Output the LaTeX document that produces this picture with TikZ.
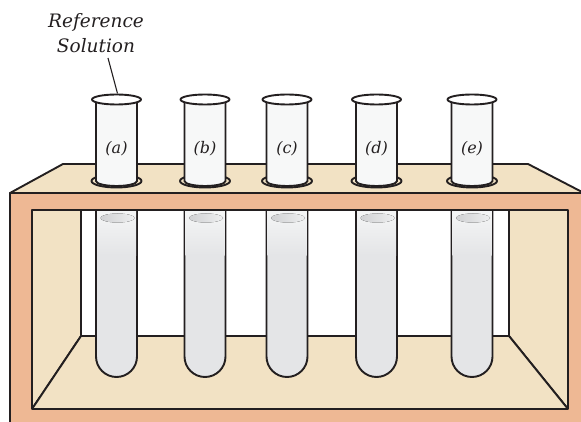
\documentclass[tikz,border=0pt]{standalone}
\usepackage{fontspec}
\newfontfamily\labfont{DejaVu Serif}
\definecolor{ink}{RGB}{35,31,32}
\definecolor{beige}{RGB}{242,226,196}
\definecolor{rackorange}{RGB}{238,184,148}
\definecolor{tubegray}{RGB}{228,229,231}
\definecolor{tubelight}{RGB}{247,248,248}
\definecolor{hlgray}{RGB}{208,209,211}
\definecolor{hllight}{RGB}{238,239,240}
\begin{document}
\begin{tikzpicture}[x=1pt,y=-1pt,line width=1.9pt,line join=round,
  edge/.style={draw=ink},
  lbl/.style={font=\labfont\fontsize{16}{18}\selectfont\itshape,inner sep=0pt,text=ink},
  reflbl/.style={font=\labfont\fontsize{18.5}{22}\selectfont\itshape,inner sep=0pt,text=ink,anchor=base}]
\useasboundingbox (0,0) rectangle (581,422);
\clip (0,0) rectangle (581,422);
% inside of the rack
\fill[white] (32,210) rectangle (568,409);
\filldraw[fill=beige,edge] (32,210) -- (81,210) -- (81,336) -- (32,409) -- cycle;
\filldraw[fill=beige,edge] (568,210) -- (509,210) -- (509,336) -- (568,409) -- cycle;
\filldraw[fill=beige,edge] (81,336) -- (509,336) -- (568,409) -- (32,409) -- cycle;
% lower parts of the tubes
\foreach \cx in {116.5,205,287,376.5,472}{
  \filldraw[fill=tubegray,edge] (\cx-20.5,200) -- (\cx-20.5,356.5)
     arc[start angle=180,end angle=0,radius=20.5] -- (\cx+20.5,200);
  \fill[top color=tubelight,bottom color=tubegray] (\cx-19.5,205) rectangle (\cx+19.5,255);
  \fill[left color=hlgray,right color=hllight] (\cx+1,218) ellipse[x radius=17,y radius=4.5];
}
% front frame
\fill[rackorange,even odd rule] (10,193) rectangle (600,440) (32,210) rectangle (568,409);
\draw[edge] (10,440) -- (10,193) -- (600,193);
\draw[edge] (32,210) rectangle (568,409);
% top face
\filldraw[fill=beige,edge] (10,193) -- (63,164) -- (528,164) -- (584,193) -- cycle;
% upper parts of the tubes
\foreach \cx/\l in {116.5/a,205/b,287/c,376.5/d,472/e}{
  \draw[edge] (\cx,181) ellipse[x radius=25,y radius=6.5];
  \filldraw[fill=tubelight,edge] (\cx-20.5,99) -- (\cx-20.5,181)
     arc[start angle=180,end angle=0,x radius=20.5,y radius=5] -- (\cx+20.5,99);
  \filldraw[fill=white,edge] (\cx,99.5) ellipse[x radius=24.5,y radius=5];
  \node[lbl] (lab\l) at (\cx,149) {(\l)};
}
% reference label
\node[reflbl] (ref1) at (96,28) {Reference};
\node[reflbl] (ref2) at (96,53) {Solution};
\coordinate (leadtop) at (108,58);
\coordinate (leadend) at (117.5,93.5);
\draw[edge,line width=1.1pt] (leadtop) -- (leadend);
\end{tikzpicture}
\end{document}
